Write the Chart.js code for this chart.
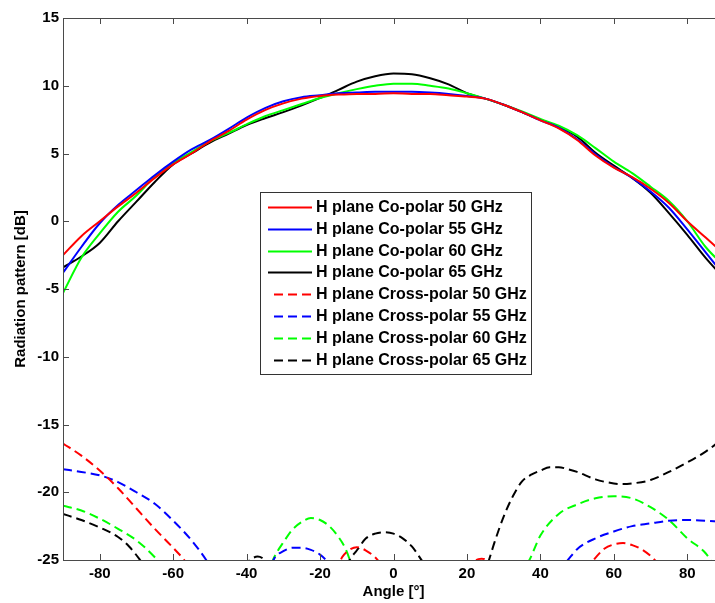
<!DOCTYPE html>
<html>
<head>
<meta charset="utf-8">
<title>H plane radiation pattern</title>
<script src="https://cdn.jsdelivr.net/npm/chart.js@4.4.1/dist/chart.umd.min.js"></script>
<style>
    html, body { margin: 0; padding: 0; background: #fff; overflow: hidden; }
    #wrap { width: 724px; height: 603px; }
</style>
</head>
<body>
<div id="wrap"><canvas id="patternChart" width="724" height="603"></canvas></div>
<script>
// Angle grid for the co-polar curves (degrees)
const angles = [-90, -85, -80, -75, -70, -65, -60, -55, -50, -45, -40, -35, -30, -25, -20, -15, -10, -5, 0,
    5, 10, 15, 20, 25, 30, 35, 40, 45, 50, 55, 60, 65, 70, 75, 80, 85, 90];

// Co-polar values (dB)
const coPolar50 = [-2.5, -1.1, 0.0, 1.1, 2.1, 3.2, 4.2, 5.0, 5.9, 6.65, 7.5, 8.2, 8.7, 9.05, 9.25, 9.35, 9.4, 9.4, 9.45,
    9.4, 9.4, 9.3, 9.2, 9.05, 8.6, 8.05, 7.45, 6.85, 6.0, 4.85, 3.95, 3.25, 2.4, 1.35, 0.0, -1.2, -2.4];
const coPolar55 = [-3.8, -1.9, -0.15, 1.2, 2.3, 3.4, 4.4, 5.3, 6.0, 6.8, 7.65, 8.35, 8.85, 9.15, 9.3, 9.45, 9.5, 9.55, 9.55,
    9.55, 9.5, 9.4, 9.25, 9.05, 8.6, 8.05, 7.45, 6.9, 6.05, 4.95, 4.0, 3.2, 2.2, 1.0, -0.6, -2.3, -4.0];
const coPolar60 = [-5.3, -2.7, -0.9, 0.7, 1.9, 3.3, 4.3, 5.1, 5.9, 6.5, 7.15, 7.75, 8.2, 8.65, 9.1, 9.45, 9.75, 10.0, 10.15,
    10.15, 10.0, 9.8, 9.45, 9.05, 8.6, 8.1, 7.55, 7.05, 6.35, 5.4, 4.4, 3.55, 2.55, 1.5, 0.0, -1.9, -3.3];
const coPolar65 = [-3.4, -2.6, -1.6, 0.0, 1.45, 2.9, 4.2, 5.0, 5.8, 6.45, 7.1, 7.6, 8.05, 8.55, 9.1, 9.7, 10.3, 10.7, 10.9,
    10.85, 10.55, 10.1, 9.45, 9.05, 8.6, 8.05, 7.5, 6.95, 6.25, 5.05, 4.1, 3.2, 2.1, 0.6, -1.0, -2.7, -4.2];

// Cross-polar curves: own angle lists (values below -25 are off the axes)
const crossAngles50 = [-90, -85, -80, -75, -70, -65, -60, -57, -54, -45, -30, -18, -15, -14, -12.5, -10, -7.5, -5, -3.5, 0,
    12, 20, 22.5, 24, 25.5, 28, 40, 52, 54.5, 57.5, 60, 62.5, 65, 67.5, 70, 71.5, 75, 90];
const crossPolar50 = [-16.4, -17.3, -18.4, -19.7, -21.2, -22.7, -24.1, -25.0, -26.2, -28, -28, -27, -25.4, -24.8, -24.35, -24.05, -24.3, -24.8, -25.3, -27,
    -28, -26, -25.0, -24.9, -25.1, -26.5, -28, -26, -25.0, -24.15, -23.85, -23.75, -23.9, -24.2, -24.7, -25.1, -26.5, -28];

const crossAngles55 = [-90, -85, -80, -75, -70, -65, -60, -55, -51, -48, -40, -34, -32.5, -30, -27.5, -25, -22.5, -20, -18, -15,
    -5, 10, 30, 42, 45, 47.5, 50, 55, 60, 65, 70, 75, 80, 85, 90];
const crossPolar55 = [-18.3, -18.5, -18.75, -19.25, -20.0, -20.85, -22.1, -23.55, -25.0, -26.3, -28, -26, -24.9, -24.35, -24.1, -24.1, -24.25, -24.6, -25.1, -26,
    -28, -28, -28, -26.5, -25.8, -25.0, -24.2, -23.4, -22.9, -22.5, -22.3, -22.1, -22.05, -22.1, -22.2];

const crossAngles60 = [-90, -85, -80, -75, -70, -65, -62, -55, -40, -35, -32.5, -30, -27.5, -25, -22.5, -20, -17.5, -15, -13, -11.5,
    -10, 0, 20, 33, 37, 40, 45, 50, 55, 60, 65, 70, 75, 80, 85, 87, 90];
const crossPolar60 = [-21.0, -21.35, -21.95, -22.7, -23.55, -24.8, -25.8, -28, -28, -26.5, -24.8, -23.7, -22.75, -22.2, -21.9, -22.05, -22.5, -23.3, -24.2, -25.3,
    -26.5, -28, -28, -26.5, -25.0, -23.2, -21.6, -20.9, -20.45, -20.3, -20.45, -21.1, -22.05, -23.4, -24.5, -25.3, -27];

const crossAngles65 = [-90, -85, -80, -75, -72, -69, -65, -55, -42, -39.5, -37, -34.5, -30, -20, -14, -12, -10, -7.5, -5, -2.5,
    0, 2.5, 5, 7.5, 10, 20, 24, 26, 27.5, 30, 32.5, 35, 37.5, 40, 42.5, 45, 47.5, 50, 55, 60, 62.5, 65, 70, 75, 80, 85, 90];
const crossPolar65 = [-21.6, -22.05, -22.6, -23.3, -24.0, -25.0, -26.5, -28, -26, -25.1, -24.75, -25.1, -26.5, -28, -26, -25.0, -24.3, -23.4, -23.05, -22.95,
    -23.05, -23.4, -24.0, -24.95, -26, -28, -26.5, -25.0, -23.7, -21.8, -20.3, -19.2, -18.7, -18.4, -18.15, -18.15, -18.3, -18.5, -19.05, -19.35, -19.4, -19.35, -19.1, -18.5, -17.8, -17.0, -16.0];

// Tick labels
const xTicks = [-80, -60, -40, -20, 0, 20, 40, 60, 80];
const yTicks = [-25, -20, -15, -10, -5, 0, 5, 10, 15];

const axisFont = { family: '"Liberation Sans", Arial, sans-serif', weight: 'bold', size: 15 };

function points(xs, ys) {
    return xs.map((a, i) => ({ x: a, y: ys[i] }));
}

function series(label, color, xs, ys, dashed) {
    const ds = {
        label: label,
        data: points(xs, ys),
        borderColor: color,
        backgroundColor: color,
        borderWidth: 2,
        pointRadius: 0,
        fill: false,
        cubicInterpolationMode: 'monotone'
    };
    if (dashed) ds.borderDash = [9, 5];
    return ds;
}

// Box, inward tick marks (MATLAB style)
const frameTicks = {
    id: 'frameTicks',
    afterDatasetsDraw(chart) {
        const { ctx, chartArea: a, scales: { x, y } } = chart;
        ctx.save();
        ctx.strokeStyle = '#4a4a4a';
        ctx.lineWidth = 1;
        ctx.beginPath();
        ctx.rect(Math.round(a.left) + 0.5, Math.round(a.top) + 0.5, Math.round(a.right - a.left), Math.round(a.bottom - a.top));
        xTicks.forEach(v => {
            const px = Math.round(x.getPixelForValue(v)) + 0.5;
            ctx.moveTo(px, a.bottom);
            ctx.lineTo(px, a.bottom - 6);
            ctx.moveTo(px, a.top);
            ctx.lineTo(px, a.top + 6);
        });
        yTicks.forEach(v => {
            const py = Math.round(y.getPixelForValue(v)) + 0.5;
            ctx.moveTo(a.left, py);
            ctx.lineTo(a.left + 6, py);
            ctx.moveTo(a.right, py);
            ctx.lineTo(a.right - 6, py);
        });
        ctx.stroke();
        ctx.restore();
    }
};

// Legend box inside the axes
const boxLegend = {
    id: 'boxLegend',
    afterDraw(chart) {
        const ctx = chart.ctx;
        ctx.save();
        ctx.fillStyle = '#fff';
        ctx.fillRect(260.5, 192.5, 271, 182);
        ctx.strokeStyle = '#333';
        ctx.lineWidth = 1;
        ctx.strokeRect(260.5, 192.5, 271, 182);
        ctx.font = 'bold 16px "Liberation Sans", Arial, sans-serif';
        ctx.textBaseline = 'middle';
        chart.data.datasets.forEach((ds, i) => {
            const yy = Math.round(206.7 + i * 21.9) + 0.5;
            ctx.strokeStyle = ds.borderColor;
            ctx.lineWidth = 2;
            ctx.setLineDash(ds.borderDash || []);
            ctx.beginPath();
            ctx.moveTo(ds.borderDash ? 274 : 268, yy);
            ctx.lineTo(312, yy);
            ctx.stroke();
            ctx.setLineDash([]);
            ctx.fillStyle = '#000';
            ctx.fillText(ds.label, 316, yy);
        });
        ctx.restore();
    }
};

document.addEventListener('DOMContentLoaded', function () {
    const ctx = document.getElementById('patternChart').getContext('2d');

    new Chart(ctx, {
        type: 'line',
        data: {
            datasets: [
                series('H plane Co-polar 50 GHz', '#ff0000', angles, coPolar50, false),
                series('H plane Co-polar 55 GHz', '#0000ff', angles, coPolar55, false),
                series('H plane Co-polar 60 GHz', '#00ff00', angles, coPolar60, false),
                series('H plane Co-polar 65 GHz', '#000000', angles, coPolar65, false),
                series('H plane Cross-polar 50 GHz', '#ff0000', crossAngles50, crossPolar50, true),
                series('H plane Cross-polar 55 GHz', '#0000ff', crossAngles55, crossPolar55, true),
                series('H plane Cross-polar 60 GHz', '#00ff00', crossAngles60, crossPolar60, true),
                series('H plane Cross-polar 65 GHz', '#000000', crossAngles65, crossPolar65, true)
            ]
        },
        options: {
            responsive: false,
            animation: false,
            layout: { padding: { top: 18, right: 0, bottom: 0, left: 0 } },
            plugins: {
                legend: { display: false },
                tooltip: { enabled: false }
            },
            scales: {
                x: {
                    type: 'linear',
                    min: -90,
                    max: 90,
                    afterBuildTicks: (scale) => { scale.ticks = xTicks.map(v => ({ value: v })); },
                    afterFit: (scale) => { scale.height = 43; },
                    ticks: { font: axisFont, color: '#000', padding: 5, maxRotation: 0 },
                    grid: { display: false, drawTicks: false },
                    border: { display: false },
                    title: { display: true, text: 'Angle [°]', font: axisFont, color: '#000', padding: { top: 0, bottom: 2 } }
                },
                y: {
                    min: -25,
                    max: 15,
                    afterBuildTicks: (scale) => { scale.ticks = yTicks.map(v => ({ value: v })); },
                    afterFit: (scale) => { scale.width = 63; },
                    ticks: { font: axisFont, color: '#000', padding: 4 },
                    grid: { display: false, drawTicks: false },
                    border: { display: false },
                    title: { display: true, text: 'Radiation pattern [dB]', font: axisFont, color: '#000', padding: { top: 12, bottom: 0 } }
                }
            }
        },
        plugins: [frameTicks, boxLegend]
    });
});
</script>
</body>
</html>
